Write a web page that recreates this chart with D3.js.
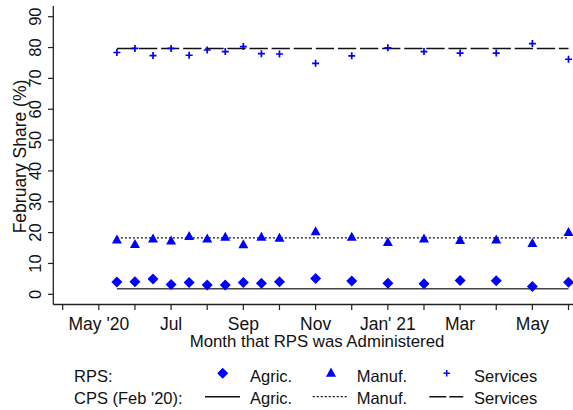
<!DOCTYPE html>
<html><head><meta charset="utf-8">
<script src="https://cdn.jsdelivr.net/npm/d3@7"></script>
<style>body{margin:0;background:#fff}svg{display:block;font-family:"Liberation Sans",Arial,sans-serif}</style>
</head><body><svg id="c" width="573" height="410"></svg>
<script>
// month index: 0 = Apr 2020 ... 14 = Jun 2021
const tickMonths = [0,1,2,3,4,5,6,7,8,9,10,11,12,13,14];
const tickLabels = ["","May '20","","Jul","","Sep","","Nov","","Jan' 21","","Mar","","May",""];
const yTicks = [0,10,20,30,40,50,60,70,80,90];
const rpsMonths = [1.5,2,2.5,3,3.5,4,4.5,5,5.5,6,7,8,9,10,11,12,13,14];
const agric = [4.0,4.1,5.0,3.2,3.8,3.0,3.0,3.8,3.6,4.1,5.1,4.3,3.6,3.4,4.5,4.4,2.5,3.9];
const manuf = [17.6,16.2,18.0,17.3,18.8,18.0,18.5,16.1,18.5,18.2,20.3,18.5,16.8,18.0,17.5,17.6,16.5,20.1];
const services = [78.4,79.7,77.4,79.7,77.5,79.2,78.7,80.3,78.0,77.9,74.9,77.3,79.9,78.7,78.2,78.2,81.3,76.2];
const cpsAgric = 1.8, cpsManuf = 18.3, cpsServices = 79.7;

const svg = d3.select("#c");
const x = d3.scaleLinear().domain([0,14]).range([62.7,568.5]);
const y = d3.scaleLinear().domain([0,90]).range([294.3,16.7]);
const blue = "#0000ff";
const axisCol = "#222";
const txt = "#111";

// axes lines
svg.append("line").attr("x1",53.3).attr("x2",573).attr("y1",304.5).attr("y2",304.5).attr("stroke",axisCol).attr("stroke-width",1.3);
svg.append("line").attr("x1",53.3).attr("x2",53.3).attr("y1",6).attr("y2",304.5).attr("stroke",axisCol).attr("stroke-width",1.3);

// y ticks
yTicks.forEach(t=>{
  svg.append("line").attr("x1",48).attr("x2",53.3).attr("y1",y(t)).attr("y2",y(t)).attr("stroke",axisCol).attr("stroke-width",1.2);
  svg.append("text").attr("transform",`translate(40.7,${y(t)}) rotate(-90)`).attr("text-anchor","middle")
    .attr("font-size",16.5).attr("fill",txt).text(t);
});
svg.append("text").attr("transform",`translate(25.5,156.5) rotate(-90)`).attr("text-anchor","middle")
  .attr("font-size",17.5).attr("fill",txt).text("February Share (%)");

// x ticks
tickMonths.forEach((m,i)=>{
  svg.append("line").attr("x1",x(m)).attr("x2",x(m)).attr("y1",304.5).attr("y2",310).attr("stroke",axisCol).attr("stroke-width",1.2);
  if(tickLabels[i]) svg.append("text").attr("x",x(m)).attr("y",329.5).attr("text-anchor","middle")
    .attr("font-size",17.5).attr("fill",txt).text(tickLabels[i]);
});
svg.append("text").attr("x",317).attr("y",347).attr("text-anchor","middle")
  .attr("font-size",16.8).attr("fill",txt).text("Month that RPS was Administered");

// CPS lines
const x0 = x(rpsMonths[0]), x1 = x(rpsMonths[rpsMonths.length-1]);
svg.append("line").attr("x1",x0).attr("x2",x1).attr("y1",y(cpsAgric)).attr("y2",y(cpsAgric)).attr("stroke","#444").attr("stroke-width",1.6);
svg.append("line").attr("x1",x0).attr("x2",x1).attr("y1",y(cpsManuf)).attr("y2",y(cpsManuf)).attr("stroke","#111").attr("stroke-width",1.4).attr("stroke-dasharray","2,2");
svg.append("line").attr("x1",x0).attr("x2",x1).attr("y1",y(cpsServices)).attr("y2",y(cpsServices)).attr("stroke","#111").attr("stroke-width",1.6).attr("stroke-dasharray","18.3,3.8");

// markers
const diamond = (cx,cy,r=5.5)=>`M${cx},${cy-r}L${cx+r},${cy}L${cx},${cy+r}L${cx-r},${cy}Z`;
const tri = (cx,cy,w=5,h=9)=>`M${cx},${cy-h*0.6}L${cx+w},${cy+h*0.4}L${cx-w},${cy+h*0.4}Z`;
const plus = (cx,cy,r=3.5)=>`M${cx-r},${cy}H${cx+r}M${cx},${cy-r}V${cy+r}`;

svg.append("g").selectAll("path").data(rpsMonths).join("path")
  .attr("d",(m,i)=>diamond(x(m),y(agric[i]))).attr("fill",blue);
svg.append("g").selectAll("path").data(rpsMonths).join("path")
  .attr("d",(m,i)=>tri(x(m),y(manuf[i]))).attr("fill",blue);
svg.append("g").selectAll("path").data(rpsMonths).join("path")
  .attr("d",(m,i)=>plus(x(m),y(services[i]))).attr("stroke",blue).attr("stroke-width",1.7).attr("fill","none");

// legend
const lg = svg.append("g").attr("font-size",16.5).attr("fill",txt);
const r1 = 381.5, r2 = 404;
lg.append("text").attr("x",74).attr("y",r1).text("RPS:");
lg.append("text").attr("x",74).attr("y",r2).text("CPS (Feb '20):");
const names = ["Agric.","Manuf.","Services"];
const textX = [250,356.7,474];
names.forEach((n,i)=>{
  lg.append("text").attr("x",textX[i]).attr("y",r1).text(n);
  lg.append("text").attr("x",textX[i]).attr("y",r2).text(n);
});
svg.append("path").attr("d",diamond(222.7,373.3,5.5)).attr("fill",blue);
svg.append("path").attr("d",tri(331,373,5,9.3)).attr("fill",blue);
svg.append("path").attr("d",plus(446.7,373.3,3.2)).attr("stroke",blue).attr("stroke-width",1.5);
svg.append("line").attr("x1",205).attr("x2",240).attr("y1",396.7).attr("y2",396.7).attr("stroke","#111").attr("stroke-width",1.4);
svg.append("line").attr("x1",312.7).attr("x2",346.7).attr("y1",396.7).attr("y2",396.7).attr("stroke","#111").attr("stroke-width",1.2).attr("stroke-dasharray","2,2");
svg.append("line").attr("x1",429.3).attr("x2",463.3).attr("y1",396.7).attr("y2",396.7).attr("stroke","#111").attr("stroke-width",1.4).attr("stroke-dasharray","17,3");
</script></body></html>
